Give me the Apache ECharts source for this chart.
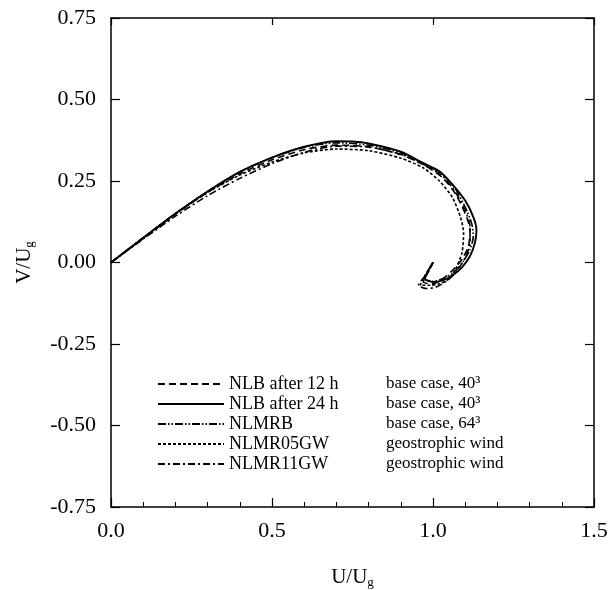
<!DOCTYPE html>
<html><head><meta charset="utf-8">
<script src="https://cdn.jsdelivr.net/npm/echarts@6/dist/echarts.min.js"></script>
<style>html,body{margin:0;padding:0;background:#fff}#c{width:613px;height:590px}</style>
</head><body><div id="c"></div>
<script>
var names = ['NLB after 12 h', 'NLB after 24 h', 'NLMRB', 'NLMR05GW', 'NLMR11GW'];
var notes = ['base case, 40³', 'base case, 40³', 'base case, 64³', 'geostrophic wind', 'geostrophic wind'];
var xTicks = [0, 0.5, 1.0, 1.5];
var yTicks = [-0.75, -0.5, -0.25, 0, 0.25, 0.5, 0.75];

var nlb12U = [0,0.1,0.2,0.3,0.4,0.5,0.6,0.7,0.8,0.9,0.97,1.03,1.07,1.1,1.115,1.11,1.09,1.06,1.03,1.0,0.97,0.985,1.0];
var nlb12V = [0,0.074,0.148,0.215,0.272,0.315,0.346,0.36,0.355,0.331,0.3,0.26,0.21,0.15,0.1,0.05,0.01,-0.025,-0.05,-0.065,-0.06,-0.03,0.0];

var nlb24U = [0,0.1,0.2,0.3,0.4,0.5,0.6,0.7,0.75,0.8,0.9,0.97,1.02,1.06,1.1,1.125,1.135,1.13,1.115,1.09,1.06,1.03,1.0,0.975,0.985,1.0];
var nlb24V = [0,0.075,0.15,0.218,0.278,0.322,0.355,0.372,0.371,0.365,0.34,0.305,0.28,0.24,0.19,0.14,0.1,0.06,0.02,-0.015,-0.04,-0.055,-0.06,-0.05,-0.025,0.0];

var mrbU = [0,0.1,0.2,0.3,0.4,0.5,0.6,0.7,0.8,0.9,0.97,1.03,1.07,1.1,1.12,1.125,1.115,1.095,1.065,1.03,1.0,0.975,0.99,1.0];
var mrbV = [0,0.076,0.15,0.218,0.278,0.322,0.353,0.367,0.36,0.336,0.304,0.27,0.225,0.17,0.12,0.08,0.04,0.005,-0.03,-0.05,-0.058,-0.05,-0.02,0.0];

var gw05U = [0,0.1,0.2,0.3,0.4,0.5,0.6,0.7,0.8,0.9,0.97,1.02,1.06,1.085,1.095,1.09,1.07,1.05,1.02,0.99,0.96,0.975,1.0];
var gw05V = [0,0.076,0.15,0.215,0.268,0.308,0.336,0.348,0.343,0.32,0.29,0.25,0.2,0.14,0.09,0.03,-0.02,-0.05,-0.065,-0.07,-0.07,-0.04,0.0];

var gw11U = [0,0.1,0.2,0.3,0.4,0.5,0.6,0.7,0.8,0.9,0.97,1.03,1.07,1.1,1.115,1.115,1.1,1.075,1.045,1.01,0.98,0.955,0.98,1.0];
var gw11V = [0,0.072,0.142,0.205,0.258,0.303,0.338,0.357,0.354,0.332,0.301,0.265,0.215,0.16,0.11,0.06,0.015,-0.025,-0.055,-0.075,-0.08,-0.07,-0.035,0.0];

function pairs(u, v){ return u.map(function(x,i){ return [x, v[i]]; }); }
var allU = [nlb12U, nlb24U, mrbU, gw05U, gw11U];
var allV = [nlb12V, nlb24V, mrbV, gw05V, gw11V];
var dashes = [[7,4], 'solid', [8,2,1.5,2,1.5,2], [3,2], [7,3,2,3]];
var widths = [1.6, 1.9, 1.6, 1.6, 1.6];

var FONT = 'Liberation Serif';
var series = names.map(function(n, i){
  return {
    name: n, type: 'line', xAxisIndex: 0, yAxisIndex: 0,
    data: pairs(allU[i], allV[i]), symbol: 'none', smooth: 0.25,
    lineStyle: { color: '#000', width: widths[i], type: dashes[i] },
    itemStyle: { color: '#000' }
  };
});

var chart = echarts.init(document.getElementById('c'), null, {renderer: 'canvas'});
chart.setOption({
  animation: false,
  backgroundColor: '#fff',
  grid: { left: 111, top: 18, width: 483, height: 489, containLabel: false, outerBoundsMode: 'none' },
  legend: {
    orient: 'vertical', left: 157, top: 375, padding: 0,
    itemWidth: 66, itemHeight: 12, itemGap: 2,
    data: names,
    itemStyle: { opacity: 0 },
    lineStyle: { opacity: 1 },
    textStyle: {
      fontFamily: FONT, fontSize: 18, color: '#000', lineHeight: 18,
      rich: {
        a: { fontFamily: FONT, fontSize: 18, color: '#000', width: 157, lineHeight: 18 },
        b: { fontFamily: FONT, fontSize: 17, color: '#000', lineHeight: 18 }
      }
    },
    formatter: function(n){ return '{a|' + n + '}{b|' + notes[names.indexOf(n)] + '}'; },
    selectedMode: false
  },
  xAxis: [{
    type: 'value', min: 0, max: 1.5, interval: 0.5, position: 'bottom',
    axisLine: { show: true, onZero: false, lineStyle: { color: '#000', width: 1.5 } },
    axisTick: { show: true, inside: true, length: 9, lineStyle: { color: '#000', width: 1.2 } },
    minorTick: { show: true, splitNumber: 5, length: 5, lineStyle: { color: '#000', width: 1 } },
    splitLine: { show: false },
    axisLabel: { fontFamily: FONT, fontSize: 22, color: '#000', margin: 13,
      formatter: function(v){ return v.toFixed(1); } },
    name: '{n|U/U}{s|g}', nameLocation: 'middle', nameGap: 58,
    nameTextStyle: { rich: {
      n: { fontFamily: FONT, fontSize: 21, color: '#000' },
      s: { fontFamily: FONT, fontSize: 13, color: '#000', padding: [11, 0, 0, 0] } } }
  }, {
    type: 'value', min: 0, max: 1.5, interval: 0.5, position: 'top',
    axisLine: { show: true, onZero: false, lineStyle: { color: '#000', width: 1.5 } },
    axisTick: { show: true, inside: true, length: 7, lineStyle: { color: '#000', width: 1.2 } },
    axisLabel: { show: false }, splitLine: { show: false }
  }],
  yAxis: [{
    type: 'value', min: -0.75, max: 0.75, interval: 0.25, position: 'left',
    axisLine: { show: true, onZero: false, lineStyle: { color: '#000', width: 1.5 } },
    axisTick: { show: true, inside: true, length: 9, lineStyle: { color: '#000', width: 1.2 } },
    splitLine: { show: false },
    axisLabel: { fontFamily: FONT, fontSize: 22, color: '#000', margin: 15,
      formatter: function(v){ return v.toFixed(2); } },
    name: '{n|V/U}{s|g}', nameLocation: 'middle', nameGap: 75, nameRotate: 90,
    nameTextStyle: { rich: {
      n: { fontFamily: FONT, fontSize: 21, color: '#000' },
      s: { fontFamily: FONT, fontSize: 13, color: '#000', padding: [11, 0, 0, 0] } } }
  }, {
    type: 'value', min: -0.75, max: 0.75, interval: 0.25, position: 'right',
    axisLine: { show: true, onZero: false, lineStyle: { color: '#000', width: 1.5 } },
    axisTick: { show: true, inside: true, length: 9, lineStyle: { color: '#000', width: 1.2 } },
    axisLabel: { show: false }, splitLine: { show: false }
  }],
  series: series
});
</script></body></html>
